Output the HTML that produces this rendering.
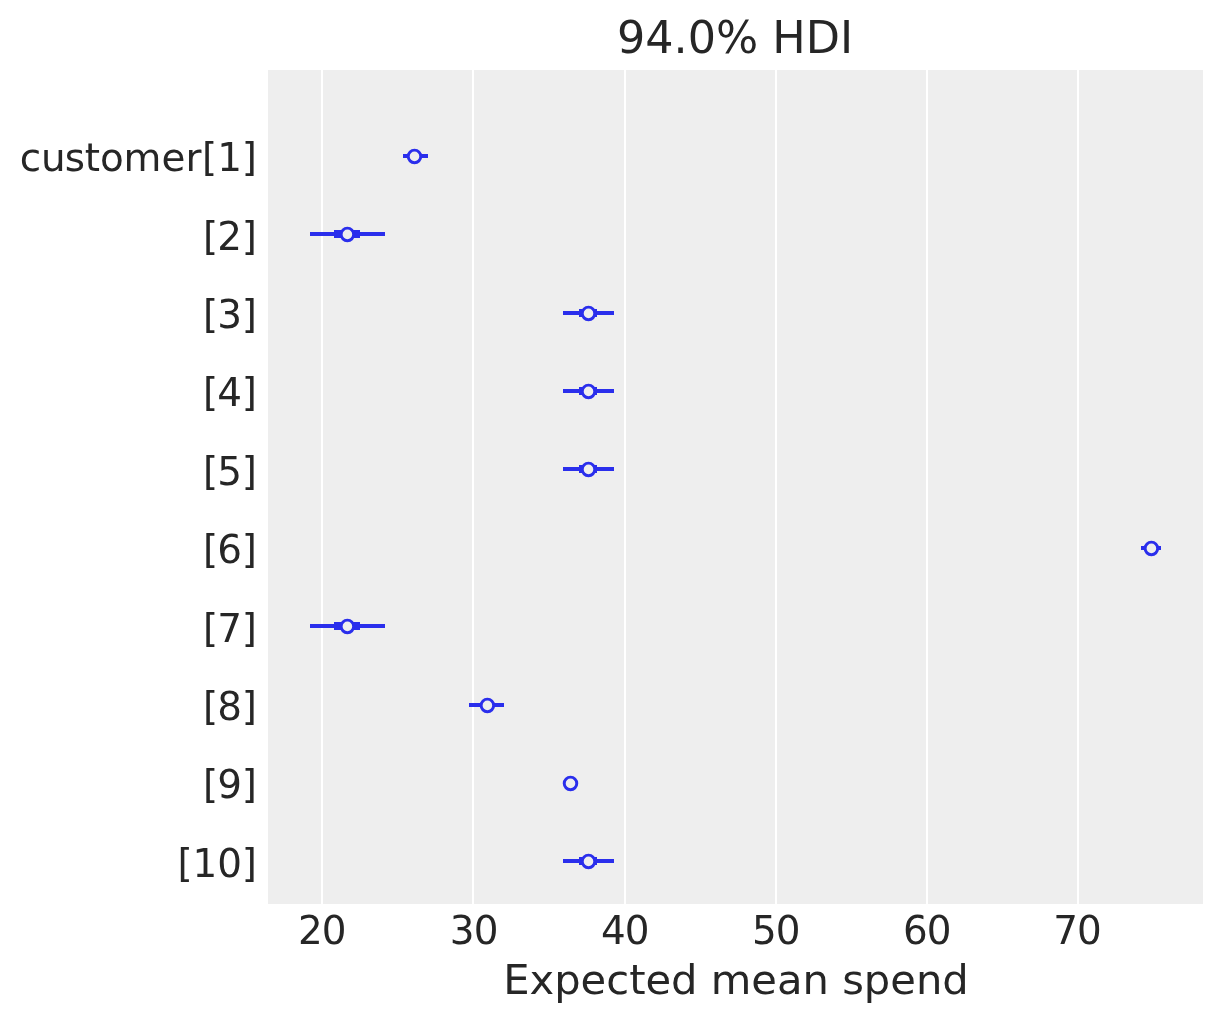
<!DOCTYPE html>
<html lang="en">
<head>
<meta charset="utf-8">
<title>94.0% HDI</title>
<style>
html,body{margin:0;padding:0;background:#fff;}
body{width:1223px;height:1023px;overflow:hidden;}
svg{display:block;}
text{font-family:"DejaVu Sans","Liberation Sans",sans-serif;fill:#262626;}
.t{font-size:38.89px;}
.h{font-size:44.44px;}
.l{font-size:41.67px;}
.x{letter-spacing:-0.9px;}
.y{letter-spacing:-0.1px;}
</style>
</head>
<body>
<svg width="1223" height="1023" viewBox="0 0 1223 1023">
<rect x="0" y="0" width="1223" height="1023" fill="#ffffff"/>
<rect x="268" y="70" width="935" height="834" fill="#eeeeee"/>

<g fill="#ffffff" shape-rendering="crispEdges">
<rect x="321" y="70" width="2" height="834"/>
<rect x="472" y="70" width="2" height="834"/>
<rect x="624" y="70" width="2" height="834"/>
<rect x="775" y="70" width="2" height="834"/>
<rect x="926" y="70" width="2" height="834"/>
<rect x="1077" y="70" width="2" height="834"/>
</g>
<g fill="#2a2eec" shape-rendering="crispEdges">
<rect x="403" y="154" width="25" height="4"/>
<rect x="310" y="232" width="75" height="4"/>
<rect x="334" y="230" width="26" height="8"/>
<rect x="563" y="311" width="51" height="4"/>
<rect x="579" y="309" width="18" height="8"/>
<rect x="563" y="389" width="51" height="4"/>
<rect x="579" y="387" width="18" height="8"/>
<rect x="563" y="467" width="51" height="4"/>
<rect x="579" y="465" width="18" height="8"/>
<rect x="1141" y="546" width="20" height="4"/>
<rect x="310" y="624" width="75" height="4"/>
<rect x="334" y="622" width="26" height="8"/>
<rect x="469" y="703" width="35" height="4"/>
<rect x="563" y="859" width="51" height="4"/>
<rect x="579" y="857" width="18" height="8"/>
</g>
<g fill="#eeeeee" stroke="#2a2eec" stroke-width="2.95">
<circle cx="414.5" cy="156.4" r="6.27"/>
<circle cx="347.4" cy="234.4" r="6.27"/>
<circle cx="588.5" cy="313.4" r="6.27"/>
<circle cx="588.5" cy="391.4" r="6.27"/>
<circle cx="588.5" cy="469.4" r="6.27"/>
<circle cx="1151.4" cy="548.4" r="6.27"/>
<circle cx="347.4" cy="626.4" r="6.27"/>
<circle cx="487.4" cy="705.4" r="6.27"/>
<circle cx="570.5" cy="783.4" r="6.27"/>
<circle cx="588.5" cy="861.4" r="6.27"/>
</g>
<text class="h" text-anchor="middle" x="735.1" y="53">94.0% HDI</text>
<text dx="0 -0.2 -0.6 -0.3 0.1 -0.1 0.2 0.25 0.5 0.15 0" class="t y" text-anchor="end" transform="translate(256.9 170.7) scale(1 1.012)">customer[1]</text>
<text dx="0 -1" class="t y" text-anchor="end" transform="translate(256.9 249.7) scale(1 1.012)">[2]</text>
<text dx="0 -1" class="t y" text-anchor="end" transform="translate(256.9 327.7) scale(1 1.012)">[3]</text>
<text dx="0 -1" class="t y" text-anchor="end" transform="translate(256.9 405.7) scale(1 1.012)">[4]</text>
<text dx="0 -1" class="t y" text-anchor="end" transform="translate(256.9 484.7) scale(1 1.012)">[5]</text>
<text dx="0 -1" class="t y" text-anchor="end" transform="translate(256.9 562.7) scale(1 1.012)">[6]</text>
<text dx="0 -1" class="t y" text-anchor="end" transform="translate(256.9 641.7) scale(1 1.012)">[7]</text>
<text dx="0 -1" class="t y" text-anchor="end" transform="translate(256.9 719.7) scale(1 1.012)">[8]</text>
<text dx="0 -1" class="t y" text-anchor="end" transform="translate(256.9 797.7) scale(1 1.012)">[9]</text>
<text class="t y" text-anchor="end" transform="translate(256.9 876.7) scale(1 1.012)">[10]</text>
<text class="t x" text-anchor="middle" x="321.75" y="944">20</text>
<text class="t x" text-anchor="middle" x="473.65" y="944">30</text>
<text class="t x" text-anchor="middle" x="624.75" y="944">40</text>
<text class="t x" text-anchor="middle" x="775.75" y="944">50</text>
<text class="t x" text-anchor="middle" x="926.75" y="944">60</text>
<text class="t x" text-anchor="middle" x="1077.05" y="944">70</text>
<text class="l" text-anchor="middle" x="736" y="994">Expected mean spend</text>
</svg>
</body>
</html>
